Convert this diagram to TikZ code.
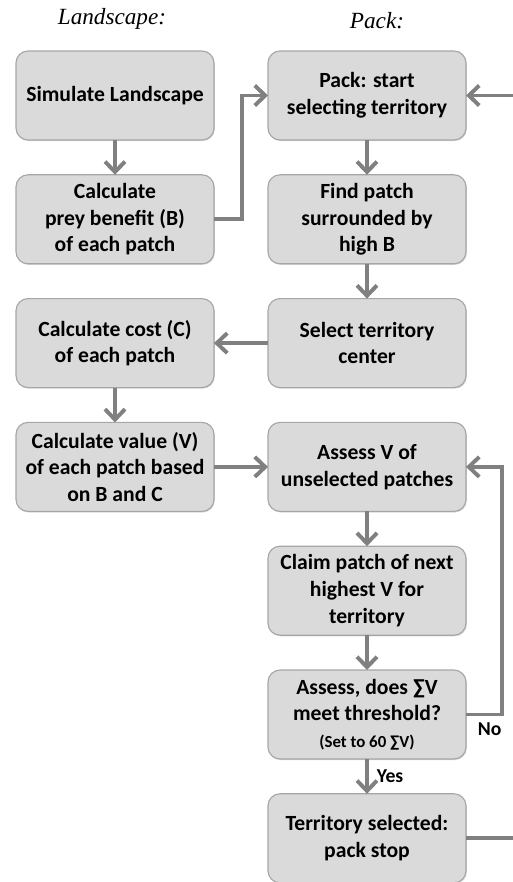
\documentclass[tikz,border=0pt]{standalone}
\usepackage{fontspec}
\setmainfont{Carlito}
\newfontfamily\titlefont{Liberation Serif}
\usetikzlibrary{positioning,arrows.meta,shadows}

\definecolor{boxfill}{HTML}{DADADA}
\definecolor{boxline}{HTML}{A6A6A6}
\definecolor{flowgray}{HTML}{808080}

\tikzset{
  stepbox/.style={rectangle, rounded corners=0.3cm, draw=boxline, fill=boxfill,
    line width=0.8pt, minimum width=4.95cm, minimum height=2.225cm, outer sep=0pt,
    align=center, font=\fontsize{15.4}{19}\selectfont\bfseries,
    drop shadow={shadow xshift=0.6pt, shadow yshift=-0.8pt, opacity=0.3, fill=black!50}},
  flow/.style={draw=flowgray, line width=2.8pt, -{Straight Barb[length=2.6mm,width=5mm]}},
  heading/.style={font=\titlefont\itshape\fontsize{16.5}{20}\selectfont},
  answer/.style={font=\fontsize{14}{17}\selectfont\bfseries}
}

\begin{document}
\begin{tikzpicture}[node distance=0.87cm and 1.35cm]
        \useasboundingbox (0,0) rectangle (12.825,-22.05);
        % Landscape column
        \node[stepbox] (simulate) at (2.875,-2.3875) {Simulate Landscape};
        \node[stepbox, below=of simulate] (prey) {Calculate\\prey benefit (B)\\of each patch};
        \node[stepbox, below=of prey] (cost) {Calculate cost (C)\\of each patch};
        \node[stepbox, below=of cost] (value) {Calculate value (V)\\of each patch based\\on B and C};
        % Pack column
        \node[stepbox, right=of simulate] (start) {Pack: start\\selecting territory};
        \node[stepbox, below=of start] (find) {Find patch\\surrounded by\\high B};
        \node[stepbox, below=of find] (center) {Select territory\\center};
        \node[stepbox, below=of center] (assessv) {Assess V of\\unselected patches};
        \node[stepbox, below=of assessv] (claim) {Claim patch of next\\highest V for\\territory};
        \node[stepbox, below=of claim] (threshold) {Assess, does ∑V\\meet threshold?\\{\fontsize{12}{15}\selectfont(Set to 60 ∑V)}};
        \node[stepbox, below=of threshold] (stop) {Territory selected:\\pack stop};
        % Headings
        \node[heading, above=0.42cm of simulate, xshift=-0.075cm] (landtitle) {Landscape:};
        \node[heading, above=0.42cm of start, xshift=0.25cm] (packtitle) {Pack:};
        % Loose ends at the right edge
        \coordinate (loopin) at (12.825,0 |- start.east);
        \coordinate (loopout) at (12.825,0 |- stop.east);
        % Connectors
        \draw[flow] (simulate) -- (prey);
        \draw[flow] (prey.east) -- ++(0.7,0) |- (start.west);
        \draw[flow] (start) -- (find);
        \draw[flow] (find) -- (center);
        \draw[flow] (center) -- (cost);
        \draw[flow] (cost) -- (value);
        \draw[flow] (value) -- (assessv);
        \draw[flow] (assessv) -- (claim);
        \draw[flow] (claim) -- (threshold);
        \draw[flow] (threshold.east) -- ++(0.9,0) node[answer, below left=0.05cm and -0.15cm] {No} |- (assessv.east);
        \draw[flow] (threshold) -- node[answer, right=0.08cm] {Yes} (stop);
        \draw[flow, -] (stop.east) -- (loopout);
        \draw[flow] (loopin) -- (start.east);
\end{tikzpicture}
\end{document}
